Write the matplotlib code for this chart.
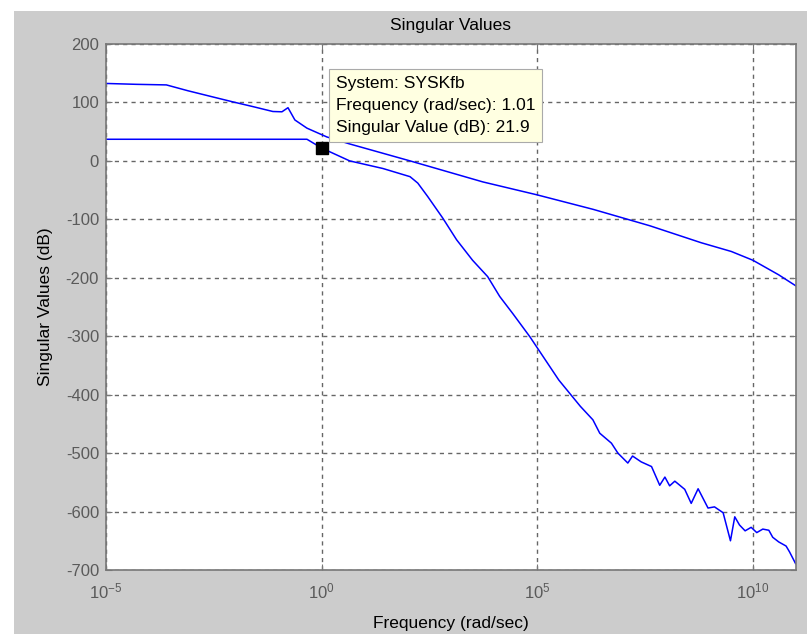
import numpy as np
import matplotlib
matplotlib.use('Agg')
import matplotlib.pyplot as plt
from matplotlib.patches import Rectangle

plt.rcParams['font.family'] = ['Liberation Sans', 'DejaVu Sans']
plt.rcParams['mathtext.default'] = 'regular'
plt.rcParams['axes.unicode_minus'] = False

# log10(frequency) and singular values (dB)
lw_hi = [-5.0, -4.3, -3.6, -3.1, -2.5, -2.06, -1.6, -1.13, -0.92, -0.78, -0.62,
         -0.34, 0.12, 0.65, 2.05, 3.74, 4.99, 6.3, 7.61, 8.8, 9.5, 10.0, 10.6, 11.0]
sv_hi = [132.5, 131, 130, 120, 109, 101, 93, 84.5, 84, 91, 70,
         56, 41, 29, 0, -36, -58, -83, -111, -140, -155, -170, -195, -214]

lw_lo = [-5.0, -0.34, 0.0, 0.65, 1.42, 2.05, 2.23, 2.46, 2.81, 3.13, 3.5, 3.85,
         4.13, 4.43, 4.83, 5.5, 6.0, 6.29, 6.45, 6.72, 6.87, 7.1, 7.21, 7.41,
         7.65, 7.84, 7.96, 8.07, 8.19, 8.42, 8.57, 8.73, 8.96, 9.11, 9.31, 9.48,
         9.58, 9.69, 9.82, 9.96, 10.09, 10.23, 10.37, 10.46, 10.6, 10.77, 10.85, 10.99]
sv_lo = [37, 37, 22, 0, -13, -27, -38, -61, -98, -135, -170, -198,
         -232, -261, -301, -375, -420, -443, -466, -483, -500, -517, -505, -515,
         -523, -555, -541, -556, -548, -562, -586, -561, -594, -592, -602, -650,
         -609, -623, -633, -627, -636, -630, -632, -644, -652, -659, -669, -689]

tip_w, tip_sv = 1.01, 21.9
tip_lines = ['System: SYSKfb', 'Frequency (rad/sec): 1.01', 'Singular Value (dB): 21.9']

grey = '#cccccc'
fig = plt.figure(figsize=(8.07, 6.34), dpi=100)
fig.patch.set_facecolor('white')
fig.patches.append(Rectangle((14 / 807, 0), 1, 1 - 11 / 634, transform=fig.transFigure,
                             facecolor=grey, edgecolor='none', zorder=-10))

ax = fig.add_axes([106 / 807, 1 - 570 / 634, 690 / 807, 526 / 634])
ax.set_facecolor('white')

ax.plot(10 ** np.array(lw_hi), sv_hi, color='#0000ff', lw=1.1)
ax.plot(10 ** np.array(lw_lo), sv_lo, color='#0000ff', lw=1.1)
ax.plot([tip_w], [tip_sv], 's', color='black', ms=8, zorder=5)

ax.set_xscale('log')
ax.set_xlim(1e-5, 1e11)
ax.set_ylim(-700, 200)
ax.set_xticks([1e-5, 1e0, 1e5, 1e10])
ax.xaxis.set_minor_locator(matplotlib.ticker.NullLocator())
ax.set_yticks(np.arange(-700, 201, 100))

ax.grid(True, ls=(0, (3, 3)), color='#666666', lw=1.0)
for s in ax.spines.values():
    s.set_color('#777777')
    s.set_linewidth(1.2)
ax.tick_params(direction='in', length=4, color='#777777', labelcolor='#5a5a5a',
               labelsize=12, top=True, right=True)
ax.tick_params(axis='x', pad=8)
ax.tick_params(axis='y', pad=5)

ax.set_title('Singular Values', fontsize=12.5, pad=10)
ax.set_xlabel('Frequency (rad/sec)', fontsize=12.5, labelpad=11)
ax.set_ylabel('Singular Values (dB)', fontsize=12.5, labelpad=9)

ax.text(0.333, 0.94, '\n'.join(tip_lines), transform=ax.transAxes,
        fontsize=12.5, va='top', ha='left', linespacing=1.62, zorder=6,
        bbox=dict(boxstyle='square,pad=0.4', facecolor='#ffffe1', edgecolor='#aaaaaa', lw=0.8))

fig.savefig('out.png', dpi=100)
